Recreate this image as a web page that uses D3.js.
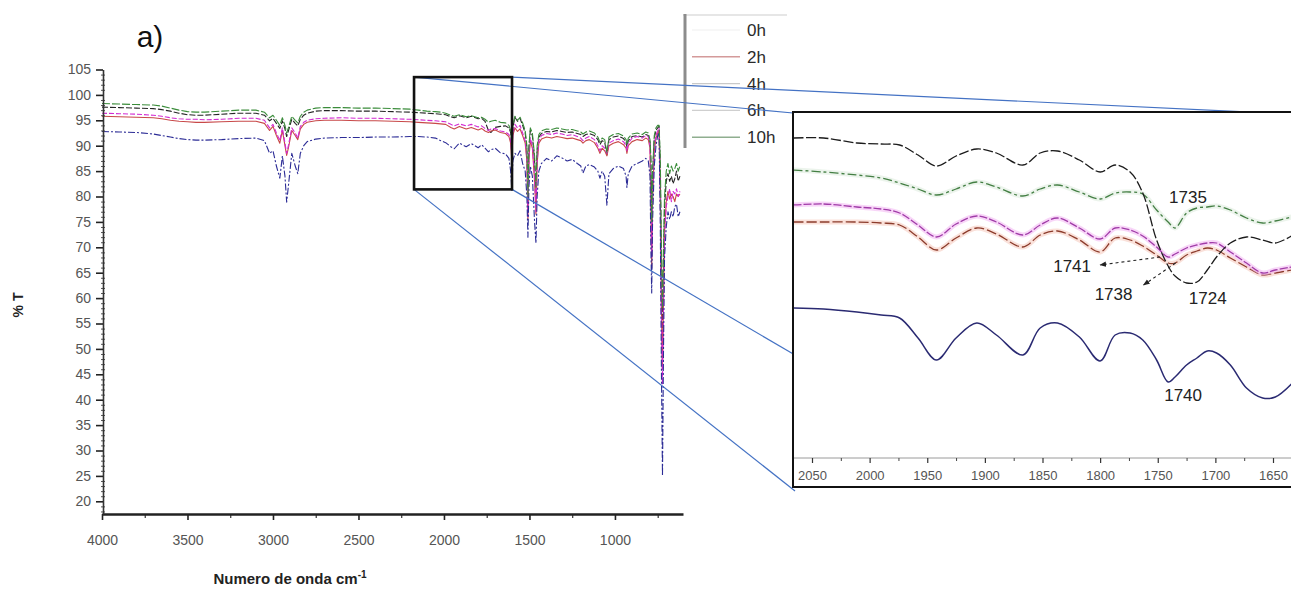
<!DOCTYPE html>
<html>
<head>
<meta charset="utf-8">
<script src="https://cdn.jsdelivr.net/npm/d3@7"></script>
<style>
  html, body { margin: 0; padding: 0; background: #fff; }
  svg { display: block; font-family: "Liberation Sans", Arial, sans-serif; }
</style>
</head>
<body>
<svg id="chart" width="1291" height="592"></svg>
<script>
// ---------------- data ----------------
const seriesNames = ["0h", "2h", "4h", "6h", "10h"];

// full FTIR spectrum, wavenumber (cm-1) and %T for each exposure time
const mainWavenumber = [4000, 3900, 3800, 3700, 3650, 3600, 3550, 3500, 3450, 3400,
  3300, 3200, 3100, 3050, 3020, 3000, 2980, 2960, 2945, 2930,
  2920, 2910, 2890, 2870, 2855, 2840, 2820, 2800, 2750, 2700,
  2600, 2500, 2400, 2300, 2200, 2150, 2100, 2050, 2020, 1990,
  1960, 1940, 1910, 1870, 1840, 1800, 1780, 1760, 1740, 1725,
  1700, 1670, 1640, 1620, 1610, 1603, 1597, 1585, 1570, 1555,
  1540, 1525, 1515, 1509, 1503, 1495, 1483, 1470, 1462, 1455,
  1445, 1430, 1400, 1370, 1340, 1310, 1280, 1250, 1220, 1200,
  1187, 1170, 1150, 1120, 1100, 1088, 1075, 1060, 1047, 1035,
  1010, 980, 950, 935, 930, 922, 900, 870, 840, 820,
  805, 795, 790, 785, 780, 770, 760, 750, 742, 735,
  728, 722, 716, 710, 700, 690, 680, 670, 660, 650,
  640, 630, 620];

const mainT0h = [97.6, 97.5, 97.4, 97.3, 97.1, 96.8, 96.4, 96.1, 96.0, 96.0,
  96.2, 96.4, 96.4, 96.0, 94.9, 95.4, 94.4, 93.4, 94.9, 93.3,
  91.8, 92.9, 95.2, 94.4, 93.9, 95.2, 96.0, 96.4, 96.8, 96.9,
  96.9, 96.8, 96.8, 96.7, 96.6, 96.5, 96.4, 96.3, 96.2, 96.1,
  95.7, 95.5, 95.9, 95.5, 95.8, 95.3, 95.4, 94.8, 93.0, 92.6,
  93.6, 93.8, 93.9, 93.5, 92.6, 90.5, 93.6, 95.6, 94.8, 95.4,
  94.0, 92.5, 89.5, 79.0, 89.5, 93.0, 92.0, 87.0, 81.0, 89.0,
  91.7, 92.4, 92.8, 92.7, 93.0, 92.8, 92.6, 92.7, 92.4, 92.2,
  91.8, 92.2, 92.4, 92.0, 91.2, 90.2, 91.0, 90.7, 88.2, 91.2,
  91.7, 91.9, 91.4, 90.7, 89.7, 91.0, 91.8, 92.0, 91.7, 92.2,
  92.0, 90.7, 87.0, 74.0, 84.0, 91.5, 93.0, 93.5, 93.8, 86.0,
  62.0, 50.0, 65.0, 78.0, 83.0, 84.5, 83.0, 84.0, 82.5, 83.5,
  85.0, 83.0, 84.0];

const mainT2h = [95.8, 95.7, 95.6, 95.5, 95.3, 95.0, 94.8, 94.7, 94.6, 94.6,
  94.7, 94.8, 94.8, 94.4, 93.0, 93.8, 92.0, 90.5, 93.0, 90.0,
  88.1, 89.5, 93.0, 92.0, 91.2, 93.3, 94.2, 94.6, 94.9, 95.0,
  95.0, 94.9, 94.9, 94.8, 94.7, 94.6, 94.5, 94.4, 94.3, 94.2,
  93.6, 93.3, 93.8, 93.3, 93.6, 93.1, 93.4, 92.9, 92.6, 92.9,
  93.1, 92.6, 92.4, 91.8, 90.5, 87.0, 92.0, 93.5, 92.8, 93.3,
  92.0, 90.5, 87.0, 75.5, 87.5, 91.0, 89.5, 83.0, 76.5, 86.5,
  90.5, 91.3, 91.7, 91.5, 91.8, 91.6, 91.4, 91.5, 91.2, 91.0,
  90.5, 91.0, 91.2, 90.6, 89.5, 88.5, 89.5, 89.0, 88.0, 90.0,
  90.5, 90.8, 90.2, 89.5, 88.5, 90.0, 90.8, 91.2, 91.0, 91.5,
  91.2, 89.5, 79.0, 66.0, 79.0, 89.0, 91.5, 92.5, 93.0, 82.0,
  58.0, 46.0, 60.0, 73.0, 79.0, 81.0, 79.5, 80.5, 80.0, 79.0,
  80.5, 80.0, 80.5];

const mainT4h = [96.4, 96.3, 96.2, 96.0, 95.8, 95.5, 95.3, 95.2, 95.2, 95.1,
  95.2, 95.4, 95.4, 95.0, 93.5, 94.2, 92.5, 91.0, 93.5, 90.5,
  88.5, 90.0, 93.5, 92.5, 91.5, 93.8, 94.6, 95.0, 95.3, 95.4,
  95.5, 95.4, 95.4, 95.3, 95.2, 95.1, 95.0, 94.9, 94.8, 94.7,
  94.2, 93.9, 94.3, 93.9, 94.2, 93.7, 93.9, 93.4, 93.0, 93.3,
  93.4, 92.9, 92.7, 92.2, 91.0, 88.0, 92.5, 94.2, 93.5, 94.0,
  92.5, 91.0, 87.5, 76.0, 88.0, 91.5, 90.0, 84.0, 77.0, 87.0,
  91.0, 92.0, 92.4, 92.2, 92.5, 92.3, 92.0, 92.2, 91.8, 91.5,
  91.0, 91.5, 91.8, 91.2, 90.0, 89.0, 90.0, 89.5, 88.5, 90.5,
  91.0, 91.3, 90.8, 90.0, 89.0, 90.5, 91.5, 91.8, 91.5, 92.0,
  91.8, 90.0, 80.0, 68.0, 80.0, 90.0, 92.0, 93.0, 93.5, 80.0,
  55.0, 43.0, 58.0, 72.0, 78.0, 80.0, 81.5, 79.0, 81.0, 80.5,
  81.5, 80.0, 81.0];

const mainT6h = [92.8, 92.7, 92.6, 92.3, 92.0, 91.7, 91.4, 91.2, 91.1, 91.1,
  91.2, 91.4, 91.5, 91.0, 88.5, 89.0, 86.0, 83.6, 88.0, 84.0,
  78.9, 82.0, 88.5, 86.0, 84.5, 88.5, 90.0, 90.8, 91.3, 91.5,
  91.6, 91.6, 91.7, 91.7, 91.8, 91.8, 91.7, 91.5, 91.0, 90.6,
  89.8, 89.4, 90.5, 89.8, 90.4, 89.6, 90.2, 89.5, 88.8, 89.2,
  89.5, 88.6, 88.4, 87.5, 85.0, 81.2, 87.0, 88.5, 88.0, 89.0,
  86.5, 85.0, 80.0, 72.0, 82.0, 86.0, 84.0, 75.0, 70.8, 80.0,
  85.0, 86.5, 87.5, 87.0, 88.0, 87.6, 87.0, 87.3, 86.5, 86.0,
  84.6, 86.0, 86.3, 85.8, 85.0, 83.6, 85.0, 84.0, 78.3, 84.5,
  85.5, 86.0, 85.5, 84.0, 81.8, 84.5, 86.0, 86.5, 87.0, 87.5,
  87.0, 84.0, 70.0, 61.0, 75.0, 86.0, 90.0, 92.0, 92.5, 75.0,
  45.0, 25.0, 50.0, 68.0, 74.0, 77.0, 75.5, 77.0, 76.0, 78.0,
  78.5, 76.0, 77.0];

const mainT10h = [98.3, 98.2, 98.1, 98.0, 97.8, 97.4, 97.0, 96.7, 96.6, 96.6,
  96.8, 97.0, 97.0, 96.6, 95.5, 96.0, 95.0, 94.0, 95.5, 94.0,
  92.5, 93.5, 95.8, 95.0, 94.5, 95.8, 96.6, 97.0, 97.4, 97.5,
  97.5, 97.4, 97.4, 97.3, 97.2, 97.0, 96.8, 96.7, 96.6, 96.4,
  96.0, 95.8, 96.1, 95.7, 95.9, 95.5, 95.6, 95.2, 94.6, 94.8,
  95.0, 94.6, 94.5, 94.0, 93.0, 90.5, 94.0, 95.8, 95.0, 95.6,
  94.5, 93.0, 90.0, 80.0, 90.0, 93.5, 92.5, 88.0, 82.0, 90.0,
  92.2, 92.9, 93.3, 93.2, 93.5, 93.3, 93.1, 93.2, 92.9, 92.7,
  92.3, 92.7, 92.9, 92.5, 91.7, 90.7, 91.5, 91.2, 88.7, 91.7,
  92.2, 92.4, 91.9, 91.2, 90.2, 91.5, 92.3, 92.5, 92.2, 92.7,
  92.5, 91.2, 88.0, 75.0, 85.0, 92.0, 93.5, 94.0, 94.0, 88.0,
  70.0, 58.0, 70.0, 80.0, 85.0, 86.5, 84.5, 86.0, 85.0, 85.5,
  86.5, 85.0, 86.0];

// carbonyl region, expanded (offset %T scale)
const insetWavenumber = [2066, 2040, 2011, 1990, 1974, 1958, 1942, 1925, 1907, 1890,
  1867, 1852, 1837, 1818, 1800, 1787, 1774, 1763, 1751, 1741,
  1735, 1725, 1716, 1707, 1699, 1687, 1673, 1659, 1648, 1634];

const insetT0h = [95.7, 95.7, 95.45, 95.4, 95.35, 94.85, 94.3, 94.8, 95.15, 94.95,
  94.35, 94.95, 95.05, 94.6, 94.0, 94.35, 94.0, 92.95, 90.6, 89.3,
  88.8, 88.45, 88.5, 89.1, 89.75, 90.45, 90.75, 90.6, 90.45, 90.8];
const insetT2h = [91.5, 91.5, 91.5, 91.45, 91.35, 90.75, 90.1, 90.7, 91.2, 90.9,
  90.25, 90.85, 91.05, 90.6, 90.0, 90.7, 90.6, 90.3, 89.85, 89.45,
  89.45, 89.85, 90.05, 90.2, 90.1, 89.7, 89.25, 88.85, 88.95, 89.1];
const insetT4h = [92.35, 92.4, 92.25, 92.15, 91.95, 91.35, 90.75, 91.4, 91.8, 91.5,
  90.85, 91.35, 91.7, 91.2, 90.65, 91.2, 91.1, 90.8, 90.25, 89.75,
  89.9, 90.2, 90.35, 90.45, 90.45, 90.0, 89.45, 88.95, 89.1, 89.25];
const insetT6h = [87.2, 87.15, 87.0, 86.85, 86.7, 85.7, 84.6, 85.7, 86.45, 85.85,
  84.85, 86.2, 86.45, 85.75, 84.55, 85.85, 85.95, 85.6, 84.6, 83.5,
  83.75, 84.35, 84.7, 85.05, 84.95, 84.35, 83.2, 82.7, 82.75, 83.4];
const insetT10h = [94.1, 94.0, 93.85, 93.7, 93.45, 93.15, 92.85, 93.15, 93.5, 93.25,
  92.8, 93.15, 93.35, 93.0, 92.65, 92.95, 93.0, 92.9, 92.1, 91.5,
  91.2, 91.95, 92.2, 92.25, 92.3, 92.1, 91.7, 91.45, 91.55, 91.75];

// axis ticks
const mainXTicks = [4000, 3500, 3000, 2500, 2000, 1500, 1000];
const mainYTicks = [20, 25, 30, 35, 40, 45, 50, 55, 60, 65, 70, 75, 80, 85, 90, 95, 100, 105];
const insetXTicks = [2050, 2000, 1950, 1900, 1850, 1800, 1750, 1700, 1650];

// region of the full spectrum that is expanded
const zoomWavenumber = [2175, 1602];
const zoomT = [81.4, 103.5];

// peak labels in the expanded view: [text, series index, wavenumber]
const peakLabels = [["1735", 4, 1735], ["1741", 2, 1741], ["1738", 1, 1738], ["1724", 0, 1724], ["1740", 3, 1741]];

// ---------------- drawing ----------------
const svg = d3.select("#chart");
const defs = svg.append("defs");
const mainSeries = [mainT0h, mainT2h, mainT4h, mainT6h, mainT10h];
const insetSeries = [insetT0h, insetT2h, insetT4h, insetT6h, insetT10h];

const lineColors = ["#262626", "#c84848", "#d22ad2", "#2c2c96", "#3a8c3a"];
const lineDash = ["6 2", null, "5 2", "7 2 2 2", "8 2"];
const fmt = d3.format("d");

// ---- full spectrum ----
const x = d3.scaleLinear().domain([4000, 602]).range([102, 683]);
const y = d3.scaleLinear().domain([17.5, 105]).range([514, 69.5]);

defs.append("clipPath").attr("id", "mainClip")
  .append("rect").attr("x", 102).attr("y", 60).attr("width", 581).attr("height", 454);

const mainLine = d3.line().x(d => x(d[0])).y(d => y(d[1]));
const gMain = svg.append("g").attr("clip-path", "url(#mainClip)");
[0, 1, 2, 3, 4].forEach(i => {
  const pts = mainWavenumber.map((w, k) => [w, mainSeries[i][k]]);
  gMain.append("path").datum(pts)
    .attr("d", mainLine)
    .attr("fill", "none")
    .attr("stroke", lineColors[i])
    .attr("stroke-width", 1.1)
    .attr("stroke-dasharray", lineDash[i])
    .attr("stroke-linejoin", "round");
});

// x axis
const xMinor = d3.range(3750, 600, -500);
svg.append("g").attr("transform", "translate(0,514)")
  .call(d3.axisBottom(x).tickValues(xMinor).tickSize(4).tickFormat(""))
  .call(g => g.select(".domain").remove())
  .call(g => g.selectAll("line").attr("stroke", "#333").attr("stroke-width", 1.2));
const xAxis = svg.append("g").attr("transform", "translate(0,514)")
  .call(d3.axisBottom(x).tickValues(mainXTicks).tickFormat(fmt).tickSize(6).tickSizeOuter(0).tickPadding(15));
xAxis.select(".domain").attr("stroke", "#222").attr("stroke-width", 2.6);
xAxis.selectAll(".tick line").attr("stroke", "#222").attr("stroke-width", 1.6);
xAxis.selectAll("text").attr("font-size", 14).attr("fill", "#555")
  .attr("font-family", "'Liberation Sans', Arial, sans-serif");

// y axis
const yMinor = d3.range(18, 105, 1).filter(v => v % 5 !== 0);
svg.append("g").attr("transform", "translate(103,0)")
  .call(d3.axisLeft(y).tickValues(yMinor).tickSize(3).tickFormat(""))
  .call(g => g.select(".domain").remove())
  .call(g => g.selectAll("line").attr("stroke", "#555").attr("x2", 2).attr("x1", -2));
const yAxis = svg.append("g").attr("transform", "translate(103,0)")
  .call(d3.axisLeft(y).tickValues(mainYTicks).tickFormat(fmt).tickSize(7).tickSizeOuter(0).tickPadding(5));
yAxis.select(".domain").attr("stroke", "#333").attr("stroke-width", 1.6);
yAxis.selectAll(".tick line").attr("stroke", "#222").attr("stroke-width", 1.6);
yAxis.selectAll("text").attr("font-size", 14).attr("fill", "#555")
  .attr("font-family", "'Liberation Sans', Arial, sans-serif");

// axis titles and panel letter
svg.append("text").attr("x", 150).attr("y", 47).attr("text-anchor", "middle")
  .attr("font-size", 30).attr("fill", "#111").text("a)");
svg.append("text").attr("transform", "translate(23,305) rotate(-90)")
  .attr("text-anchor", "middle").attr("font-size", 14).attr("font-weight", "bold")
  .attr("fill", "#222").text("% T");
const xt = svg.append("text").attr("x", 290).attr("y", 584).attr("text-anchor", "middle")
  .attr("font-size", 15).attr("font-weight", "bold").attr("fill", "#222");
xt.append("tspan").text("Numero de onda cm");
xt.append("tspan").attr("dy", -6).attr("font-size", 10).text("-1");

// ---- legend ----
const legend = svg.append("g");
legend.append("line").attr("x1", 683).attr("x2", 787).attr("y1", 15).attr("y2", 15)
  .attr("stroke", "#dedede").attr("stroke-width", 1.5);
legend.append("line").attr("x1", 685).attr("x2", 685).attr("y1", 14).attr("y2", 148)
  .attr("stroke", "#8c8c8c").attr("stroke-width", 3);
const legendColors = ["#f4f4f4", "#d49a9a", "#c9c9c9", "#cfcfcf", "#8fae8f"];
seriesNames.forEach((name, i) => {
  const cy = 30 + i * 26.8;
  legend.append("line").attr("x1", 692).attr("x2", 740).attr("y1", cy).attr("y2", cy)
    .attr("stroke", legendColors[i]).attr("stroke-width", 1.4);
  legend.append("text").attr("x", 747).attr("y", cy + 6).attr("font-size", 17)
    .attr("fill", "#2a2a2a").text(name);
});

// ---- expanded region ----
const xi = d3.scaleLinear().domain([2050, 1650]).range([812, 1273]);
const yi = d3.scaleLinear().domain([79.7, 97]).range([458, 112]);

// zoom rectangle on the full spectrum and guide lines
const rx0 = x(zoomWavenumber[0]), rx1 = x(zoomWavenumber[1]);
const ry0 = y(zoomT[1]), ry1 = y(zoomT[0]);
const guide = svg.append("g").attr("stroke", "#4472c4").attr("stroke-width", 1.2);
guide.append("line").attr("x1", rx0).attr("y1", ry0).attr("x2", 793).attr("y2", 113);
guide.append("line").attr("x1", rx1).attr("y1", ry0).attr("x2", 1291).attr("y2", 114);
guide.append("line").attr("x1", rx0).attr("y1", ry1).attr("x2", 795).attr("y2", 491);
guide.append("line").attr("x1", rx1).attr("y1", ry1).attr("x2", 795).attr("y2", 355);
svg.append("rect").attr("x", rx0).attr("y", ry0).attr("width", rx1 - rx0).attr("height", ry1 - ry0)
  .attr("fill", "none").attr("stroke", "#111").attr("stroke-width", 2.6);

// inset panel
svg.append("rect").attr("x", 793).attr("y", 112).attr("width", 520).attr("height", 375)
  .attr("fill", "#fff").attr("stroke", "#111").attr("stroke-width", 2);
defs.append("clipPath").attr("id", "insetClip")
  .append("rect").attr("x", 794).attr("y", 113).attr("width", 500).attr("height", 344);

const insetLine = d3.line().x(d => xi(d[0])).y(d => yi(d[1])).curve(d3.curveCatmullRom.alpha(0.5));
const gInset = svg.append("g").attr("clip-path", "url(#insetClip)");
const insetColors = ["#1c1c1c", "#8c3c2c", "#a03ca8", "#2a2a72", "#447f44"];
const insetDash = ["10 2.5", "10 3", "8 2", null, "9 3 3 3"];
const insetHalo = [null, "#f6c8bc", "#f3b4f3", null, "#dcebdc"];
[3, 1, 2, 4, 0].forEach(i => {
  const pts = insetWavenumber.map((w, k) => [w, insetSeries[i][k]]);
  if (insetHalo[i]) {
    gInset.append("path").datum(pts).attr("d", insetLine).attr("fill", "none")
      .attr("stroke", insetHalo[i]).attr("stroke-width", 5).attr("stroke-opacity", 0.55);
  }
  gInset.append("path").datum(pts).attr("d", insetLine).attr("fill", "none")
    .attr("stroke", insetColors[i]).attr("stroke-width", i === 3 ? 1.5 : 1.3)
    .attr("stroke-dasharray", insetDash[i]);
});

// inset wavenumber axis
svg.append("line").attr("x1", 794).attr("x2", 1291).attr("y1", 458).attr("y2", 458)
  .attr("stroke", "#9a9a9a").attr("stroke-width", 1);
svg.append("g").attr("transform", "translate(0,458)")
  .call(d3.axisBottom(xi).tickValues(d3.range(2025, 1640, -50)).tickSize(3).tickFormat(""))
  .call(g => g.select(".domain").remove())
  .call(g => g.selectAll("line").attr("stroke", "#444"));
const iAxis = svg.append("g").attr("transform", "translate(0,458)")
  .call(d3.axisBottom(xi).tickValues(insetXTicks).tickFormat(fmt).tickSize(5).tickSizeOuter(0).tickPadding(8));
iAxis.select(".domain").remove();
iAxis.selectAll(".tick line").attr("stroke", "#333").attr("stroke-width", 1.2);
iAxis.selectAll("text").attr("font-size", 13).attr("fill", "#555")
  .attr("font-family", "'Liberation Sans', Arial, sans-serif");

// peak annotations
defs.append("marker").attr("id", "arrowHead")
  .attr("viewBox", "0 0 10 10").attr("refX", 9).attr("refY", 5)
  .attr("markerWidth", 6).attr("markerHeight", 6).attr("orient", "auto")
  .append("path").attr("d", "M0,1 L10,5 L0,9 Z").attr("fill", "#222");

// value of an inset series at any wavenumber (linear between grid points)
const valueAt = (s, w) => {
  const asc = insetWavenumber.map((v, k) => [v, insetSeries[s][k]]).reverse();
  const k = d3.bisector(d => d[0]).left(asc, w);
  if (k <= 0) return asc[0][1];
  if (k >= asc.length) return asc[asc.length - 1][1];
  const [w0, v0] = asc[k - 1], [w1, v1] = asc[k];
  return v0 + (v1 - v0) * (w - w0) / (w1 - w0);
};
const labelLayout = {
  "1735": { dx: 13, dy: -31 },
  "1741": { dx: -96, dy: 9, arrow: [-8, 0, -68, 8] },
  "1738": { dx: -58, dy: 31, arrow: [4, 0, -28, 22] },
  "1724": { dx: 20, dy: 15 },
  "1740": { dx: 15, dy: 13 }
};
const gLab = svg.append("g");
peakLabels.forEach(([text, s, w]) => {
  const px = xi(w), py = yi(valueAt(s, w));
  const L = labelLayout[text];
  gLab.append("text").attr("x", px + L.dx).attr("y", py + L.dy).attr("dy", "0.35em")
    .attr("text-anchor", "middle").attr("font-size", 17).attr("fill", "#222").text(text);
  if (L.arrow) {
    gLab.append("line")
      .attr("x1", px + L.arrow[0]).attr("y1", py + L.arrow[1])
      .attr("x2", px + L.arrow[2]).attr("y2", py + L.arrow[3])
      .attr("stroke", "#222").attr("stroke-width", 1.1).attr("stroke-dasharray", "3 3")
      .attr("marker-end", "url(#arrowHead)");
  }
});
</script>
</body>
</html>
